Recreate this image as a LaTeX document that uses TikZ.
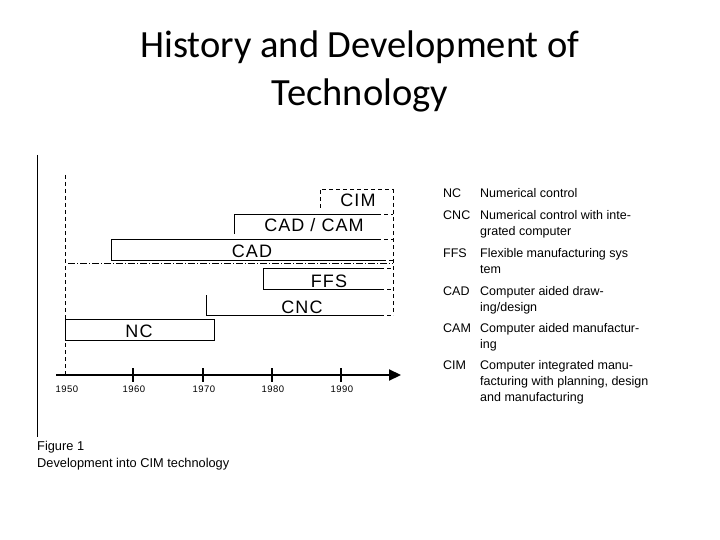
\documentclass[tikz,border=0pt]{standalone}
\usepackage{fontspec}
\setmainfont{Liberation Sans}
\newfontfamily\titlefont{Carlito}
\usetikzlibrary{arrows.meta}
\begin{document}
\begin{tikzpicture}[x=1pt,y=-1pt,
  bar/.style={line width=0.9pt},
  dbar/.style={line width=0.9pt,dash pattern=on 4pt off 3pt},
  barlabel/.style={font=\fontsize{18}{20}\selectfont\addfontfeature{LetterSpace=6},anchor=base,inner sep=0pt},
  yearlabel/.style={font=\fontsize{9.5}{10}\selectfont\addfontfeature{LetterSpace=5},anchor=base},
  legline/.style={font=\fontsize{12.5}{14}\selectfont,anchor=base west,inner sep=0pt},
  caption/.style={font=\fontsize{12.8}{15}\selectfont,anchor=base west,inner sep=0pt}]
\useasboundingbox (0,0) rectangle (720,540);
% title
\node[font=\titlefont\fontsize{38.5}{46}\selectfont,anchor=base] (t1) at (360,58) {History and Development of};
\node[font=\titlefont\fontsize{38.5}{46}\selectfont,anchor=base] (t2) at (360,106) {Technology};
% left frame line
\draw[line width=0.9pt] (37,155) -- (37,437);
% dashed 1950 line
\draw[line width=0.8pt,dash pattern=on 4pt off 3pt] (65,175) -- (65,375);
% right dashed line
\draw[dbar] (393,189) -- (393,315);
% CIM
\draw[dbar] (320,208) -- (320,189) -- (393,189);
\node[barlabel] (cim) at (358,207) {CIM};
% CAD/CAM
\draw[bar] (234,234) -- (234,214) -- (377,214);
\draw[dbar] (377,214) -- (393,214);
\node[barlabel] (cadcam) at (314,232) {CAD / CAM};
% CAD
\draw[bar] (377,239) -- (111,239) -- (111,260) -- (382,260);
\draw[dbar] (377,239) -- (393,239);
\draw[dbar] (382,260) -- (393,260);
\node[barlabel] (cad) at (252,257) {CAD};
% dash-dot separator
\draw[line width=0.7pt,dash pattern=on 7pt off 2pt on 1pt off 2pt] (68,263) -- (393,263);
% FFS
\draw[bar] (380,268) -- (263,268) -- (263,289) -- (380,289);
\draw[dbar] (380,268) -- (393,268);
\draw[dbar] (380,289) -- (393,289);
\node[barlabel] (ffs) at (329,287) {FFS};
% CNC
\draw[bar] (206,295) -- (206,315) -- (380,315);
\draw[dbar] (380,315) -- (393,315);
\node[barlabel] (cnc) at (302,313) {CNC};
% NC
\draw[bar] (65,340) -- (65,319) -- (214,319) -- (214,340) -- (65,340);
\node[barlabel] (nc) at (139,337) {NC};
% timeline
\coordinate (tl0) at (56,375);
\coordinate (tl1) at (401,375);
\draw[line width=2.2pt,-{Triangle[length=12pt,width=11pt]}] (tl0) -- (tl1);
\foreach \x in {133,203,272,341} \draw[line width=2.2pt] (\x,368) -- (\x,382);
\node[yearlabel] (y50) at (67,392) {1950};
\node[yearlabel] (y60) at (134,392) {1960};
\node[yearlabel] (y70) at (204,392) {1970};
\node[yearlabel] (y80) at (273,392) {1980};
\node[yearlabel] (y90) at (342,392) {1990};
% legend
\node[legline] (a1) at (443,198) {NC};
\node[legline] (a2) at (443,220) {CNC};
\node[legline] (a3) at (443,257) {FFS};
\node[legline] (a4) at (443,295) {CAD};
\node[legline] (a5) at (443,332) {CAM};
\node[legline] (a6) at (443,369) {CIM};
\node[legline] (d1) at (480,198) {Numerical control};
\node[legline] (d2) at (480,220) {Numerical control with inte-};
\node[legline] (d2b) at (480,236) {grated computer};
\node[legline] (d3) at (480,257) {Flexible manufacturing sys};
\node[legline] (d3b) at (480,273) {tem};
\node[legline] (d4) at (480,295) {Computer aided draw-};
\node[legline] (d4b) at (480,311) {ing/design};
\node[legline] (d5) at (480,332) {Computer aided manufactur-};
\node[legline] (d5b) at (480,348) {ing};
\node[legline] (d6) at (480,369) {Computer integrated manu-};
\node[legline] (d6b) at (480,385) {facturing with planning, design};
\node[legline] (d6c) at (480,401) {and manufacturing};
% caption
\node[caption] (cap1) at (37,450) {Figure 1};
\node[caption] (cap2) at (37,467) {Development into CIM technology};
\end{tikzpicture}
\end{document}
